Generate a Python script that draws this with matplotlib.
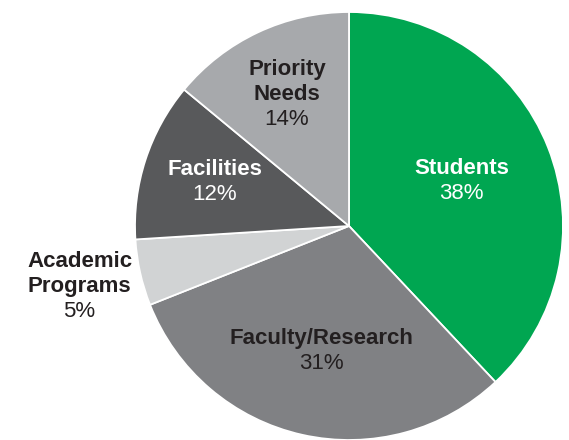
import matplotlib
matplotlib.use("Agg")
import matplotlib.pyplot as plt
import numpy as np

# slice data (clockwise from 12 o'clock)
categories = ["Students", "Faculty/Research", "Academic\nPrograms", "Facilities", "Priority\nNeeds"]
shares = [38, 31, 5, 12, 14]
colors = ["#00a651", "#808184", "#d1d3d4", "#58595b", "#a7a9ac"]
text_colors = ["white", "#231f20", "#231f20", "white", "#231f20"]
label_dist = [0.565, 0.60, 1.29, 0.66, 0.68]

plt.rcParams['font.family'] = ['Liberation Sans', 'DejaVu Sans']

fig = plt.figure(figsize=(5.69, 4.40), dpi=100)
ax = fig.add_axes([0, 0, 1, 1])

cx, cy, r = 349, 440 - 226, 214
wedges, _ = ax.pie(shares, colors=colors, startangle=90, counterclock=False,
                   center=(cx, cy), radius=r,
                   wedgeprops=dict(edgecolor="white", linewidth=1.3))

line_h = 25
for w, name, pct, tc, d in zip(wedges, categories, shares, text_colors, label_dist):
    mid = np.deg2rad((w.theta1 + w.theta2) / 2)
    lx = cx + d * r * np.cos(mid)
    ly = cy + d * r * np.sin(mid)
    lines = name.split("\n")
    n = len(lines) + 1
    top = ly + (n - 1) / 2 * line_h
    for i, ln in enumerate(lines):
        ax.text(lx, top - i * line_h, ln, ha='center', va='center',
                fontsize=16, fontweight='bold', color=tc)
    ax.text(lx, top - len(lines) * line_h, f"{pct}%", ha='center', va='center',
            fontsize=16, color=tc)

ax.set_xlim(0, 569)
ax.set_ylim(0, 440)
ax.set_aspect('auto')
ax.axis('off')

fig.savefig("out.png", dpi=100)
